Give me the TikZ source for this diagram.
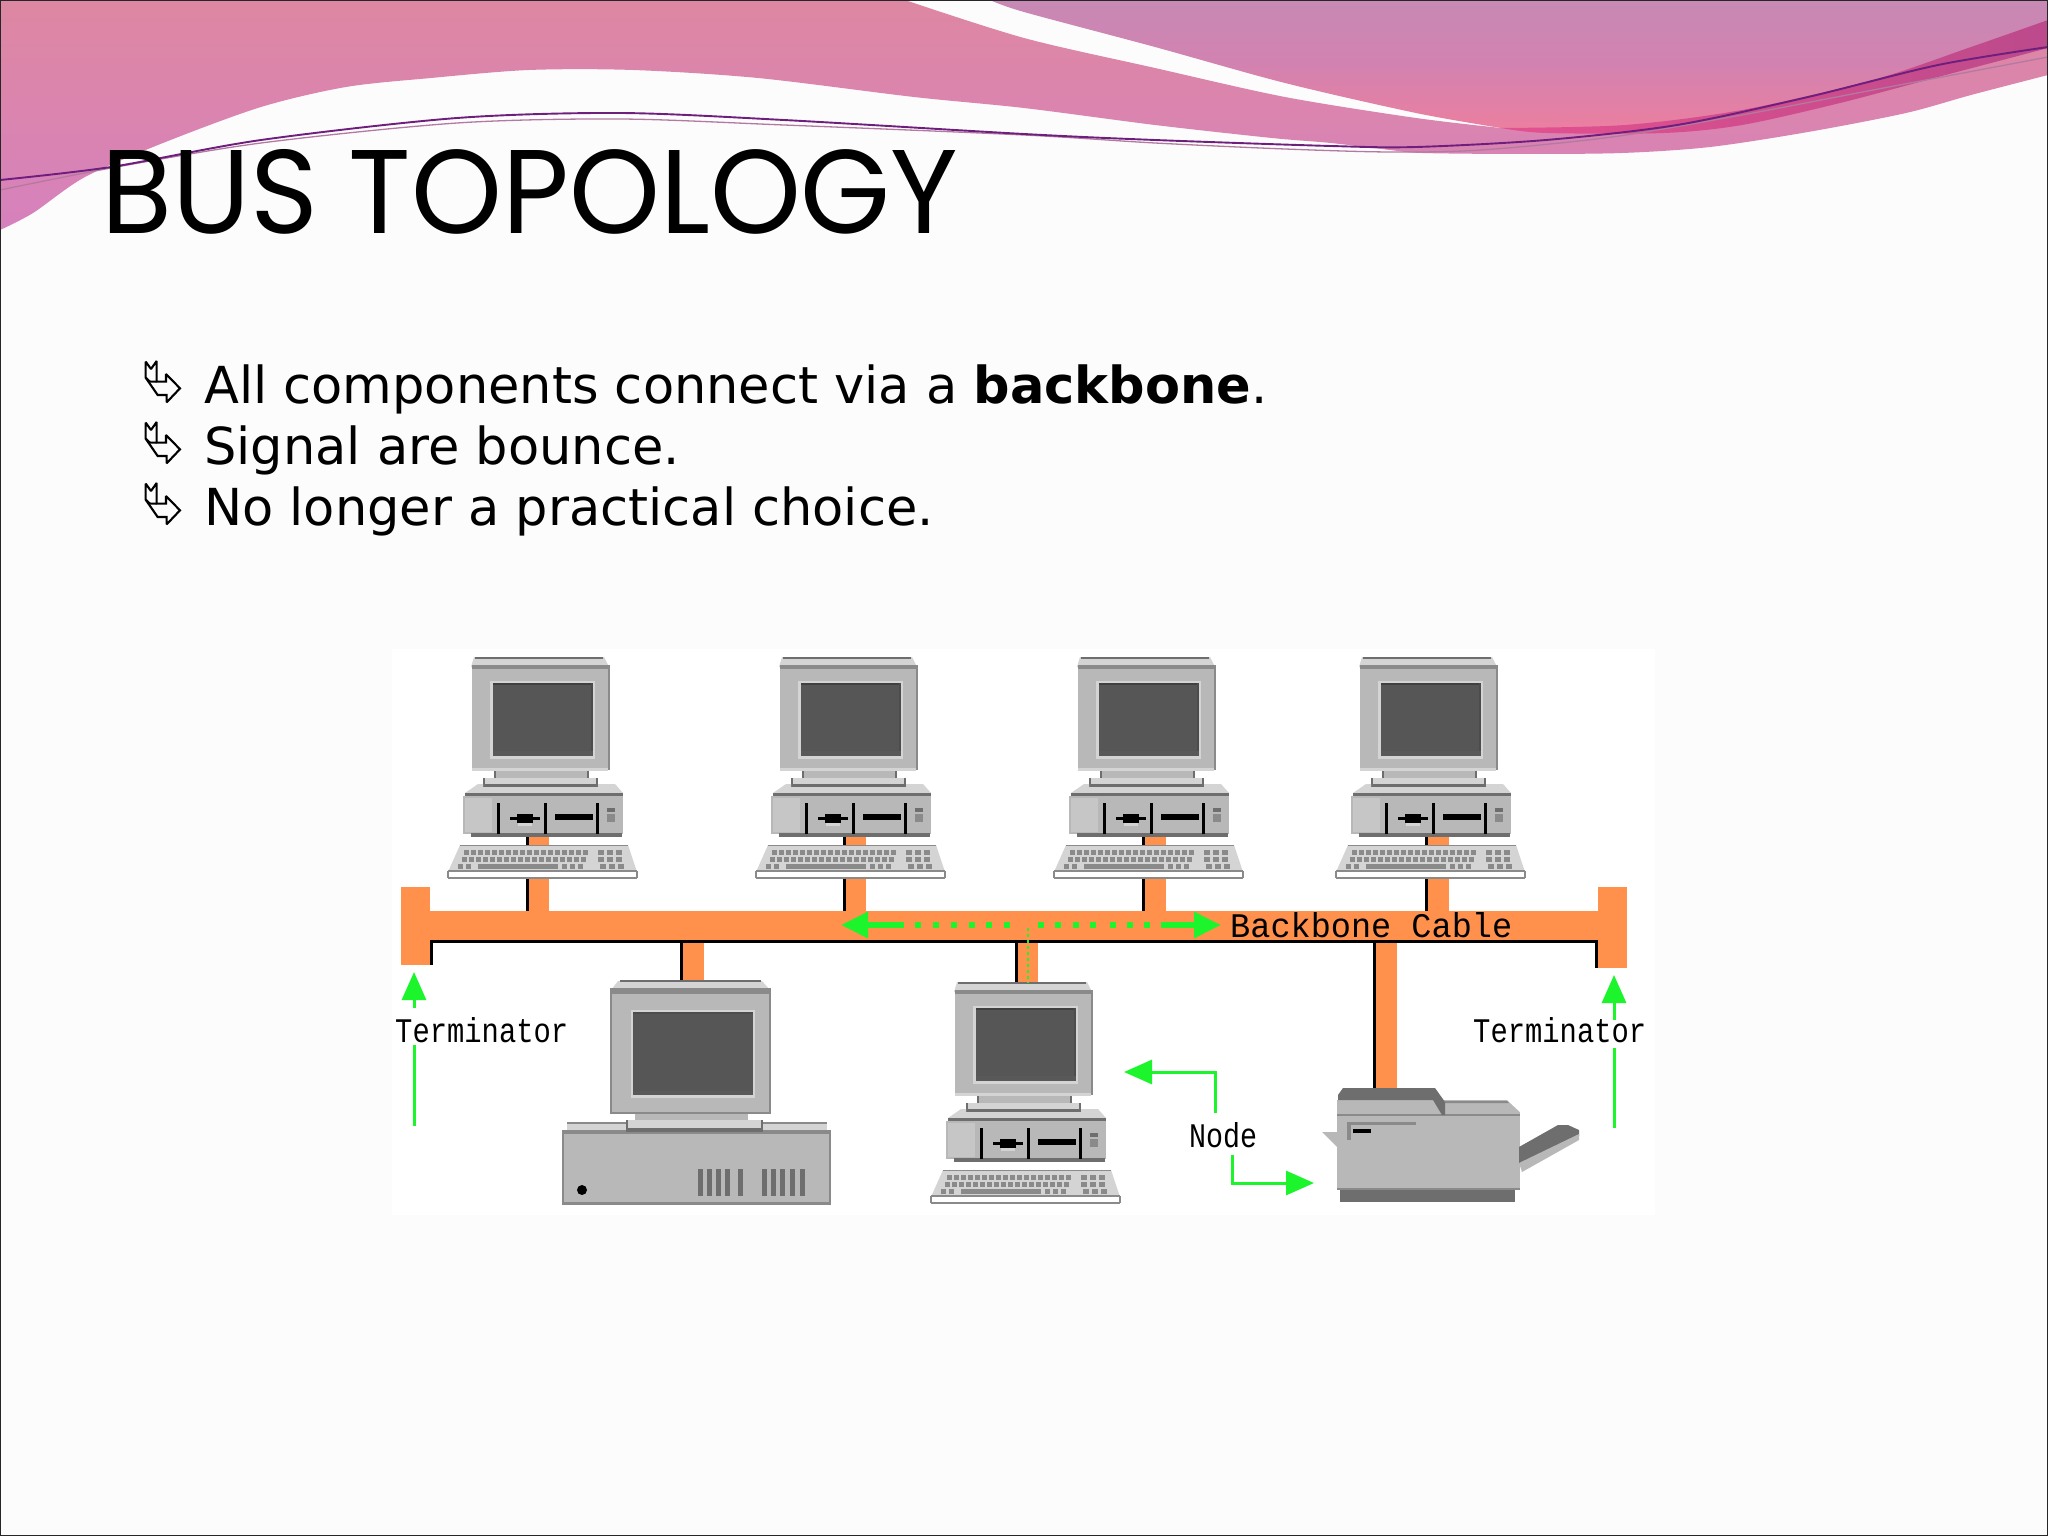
\documentclass[tikz,border=0pt]{standalone}
\usepackage{fontspec}
\usepackage{graphicx}
\setmainfont{DejaVu Sans}
\newfontfamily\titlefont{Poppins}
\newfontfamily\monolabel{Liberation Mono}
\usetikzlibrary{arrows.meta}
\definecolor{pagebg}{HTML}{FDFCFD}
\definecolor{orangebus}{HTML}{FF914D}
\definecolor{arrowgreen}{HTML}{1CF42C}
\definecolor{cgray}{HTML}{B8B8B8}
\definecolor{clight}{HTML}{D4D4D4}
\definecolor{cpanel}{HTML}{C6C6C6}
\definecolor{cmid}{HTML}{8A8A8A}
\definecolor{cdark}{HTML}{6E6E6E}
\definecolor{screen}{HTML}{565656}
\definecolor{DEpink}{HTML}{DE87A2}
\definecolor{DEpinkb}{HTML}{D681BD}
\definecolor{PBa}{HTML}{C789B5}
\definecolor{PBm}{HTML}{D282B0}
\definecolor{PBb}{HTML}{EB7FA0}
\definecolor{CRa}{HTML}{E4508F}
\definecolor{CRb}{HTML}{BC4A8C}
\definecolor{PLa}{HTML}{6E1E7C}
\definecolor{PLb}{HTML}{B27AA0}
\tikzset{
  x=1pt,y=-1pt,
  bodytext/.style={anchor=base west,inner sep=0pt,font=\fontsize{51}{61}\selectfont,text=black},
  bitlabel/.style={anchor=base west,inner sep=0pt,text=black},
  garrow/.style={draw=arrowgreen,line width=3pt,-{Triangle[length=28pt,width=24pt,fill=arrowgreen]}},
  gbus/.style={draw=arrowgreen,line width=6pt,-{Triangle[length=27pt,width=25pt,fill=arrowgreen]}},
  gline/.style={draw=arrowgreen,line width=3pt},
  busdot/.style={fill=arrowgreen},
  bulletshape/.style={draw=black,line width=2.1pt,line join=miter,miter limit=1.5,fill=none},
}
% cable: orange band with a black left edge
\newcommand\cablerun[4]{%
  \fill[orangebus] (#1,#3) rectangle (#2,#4);
  \fill[black] (#1-3,#3) rectangle (#1,#4);}
% bullet
\newcommand\arrowbullet[2]{%
 \begin{scope}[shift={(#1,#2)},x=0.3333pt,y=-0.3333pt]
  \draw[bulletshape] (32,20)--(48,42)--(65,18)--(65,80)--(93,80)--(93,57)--(135,100)--(95,142)--(95,120)--(68,120)--(32,68)--cycle;
  \draw[bulletshape] (32,68)--(45,80)--(65,80);
 \end{scope}}
% small desktop with keyboard
\newcommand\smallpc[1]{%
 \begin{scope}[shift={#1}]
  % monitor cap
  \fill[clight] (34,7)--(164,7)--(169,17)--(31,17)--cycle;
  \draw[cdark,line width=1.6pt] (35,8)--(163,8);
  % monitor
  \fill[cgray] (32,17) rectangle (170,120);
  \fill[cmid] (32,15) rectangle (170,19);
  \fill[cmid] (168,17) rectangle (170,120);
  \fill[clight] (32,118) rectangle (168,121);
  % screen
  \fill[clight] (50,31) rectangle (155,109);
  \fill[screen] (53,33) rectangle (153,106);
  \fill[black!75] (53,33) rectangle (153,35);
  \fill[black!70] (151,33) rectangle (153,106);
  \fill[black!65] (53,101) rectangle (153,106);
  % neck and base
  \fill[cgray] (55,121) rectangle (149,128);
  \fill[cdark] (54,121) rectangle (56,128);
  \fill[cdark] (147,121) rectangle (149,128);
  \fill[clight] (43,128) rectangle (158,137);
  \fill[cdark] (43,134) rectangle (158,137);
  \fill[cdark] (43,128) rectangle (45,137);
  \fill[cdark] (156,128) rectangle (158,137);
  % cpu
  \fill[clight] (38,134)--(43,134)--(43,137)--(158,137)--(158,134)--(175,134)--(183,143)--(25,143)--cycle;
  \fill[cgray] (23,146) rectangle (183,184);
  \fill[cpanel] (25,148) rectangle (52,182);
  \fill[cdark] (25,143) rectangle (183,146);
  \fill[cdark] (31,183) rectangle (182,187);
  \fill[black] (57,153) rectangle (60,184);
  \fill[black] (104,153) rectangle (107,184);
  \fill[black] (156,153) rectangle (159,184);
  \fill[black] (115,164) rectangle (153,170);
  \fill[clight] (78,173) rectangle (92,176);
  \fill[black] (70,167) rectangle (100,170);
  \fill[black] (77,164) rectangle (93,173);
  \fill[cdark] (167,158) rectangle (175,162);
  \fill[cmid] (167,164) rectangle (175,172);
  % keyboard
  \fill[clight] (20,195)--(188,195)--(197,222)--(8,222)--cycle;
  \draw[cmid,line width=1pt] (20,195)--(188,195);
  \foreach \kx in {24,31,...,143} {\fill[cmid] (\kx,200) rectangle (\kx+5,205);}
  \foreach \kx in {22,29,...,143} {\fill[cmid] (\kx,207) rectangle (\kx+5,212);}
  \fill[cmid] (38,214) rectangle (118,219);
  \foreach \kx in {18,26,122,130,138} {\fill[cmid] (\kx,214) rectangle (\kx+5,219);}
  \foreach \kx in {158,167,176} {\fill[cmid] (\kx,200) rectangle (\kx+6,205);
     \fill[cmid] (\kx,207) rectangle (\kx+6,212);\fill[cmid] (\kx+2,214) rectangle (\kx+8,219);}
  \fill[white] (8,222) rectangle (197,228);
  \draw[cmid,line width=1.2pt] (8,221)--(197,221) (8,228)--(197,228);
  \draw[cmid,line width=1.2pt] (8,221)--(8,228) (197,221)--(197,228);
 \end{scope}}
\begin{document}
\begin{tikzpicture}
\useasboundingbox (0,0) rectangle (2048,1536);
\fill[pagebg] (0,0) rectangle (2048,1536);
% swoosh band A
\shade[top color=DEpink,bottom color=DEpinkb] (0,230)--(0,0)--(905,0)
  --plot[smooth,tension=0.5] coordinates {(905,0)(1024,38)(1155,68)(1285,97)(1416,118)(1501,128)}
  --(1742,110)--(2048,20)--
  plot[smooth,tension=0.5] coordinates {(2048,75)(1971,95)(1906,113)(1808,132)(1710,147)(1622,153)(1520,154)(1422,153)(1390,150)(1331,143)(1272,138)(1155,125)(1024,108)(914,97)(758,78)(633,70)(529,70)(431,78)(346,87)(261,107)(163,143)(85,177)(33,213)(0,230)}
  --cycle;
% swoosh B
\shade[top color=PBa,bottom color=PBb,middle color=PBm] (990,0)
  --plot[smooth,tension=0.5] coordinates {(990,0)(1024,12)(1155,47)(1285,83)(1416,113)(1501,128)}
  --plot[smooth,tension=0.5] coordinates {(1501,128)(1625,125)(1742,110)(1873,80)(1971,47)(2048,20)}
  --(2048,0)--cycle;
% crescent
\shade[left color=CRa,right color=CRb] (1501,128)
  --plot[smooth,tension=0.5] coordinates {(1501,128)(1625,125)(1742,110)(1873,80)(1971,47)(2048,20)}
  --plot[smooth,tension=0.5] coordinates {(2048,48)(1938,77)(1840,103)(1742,125)(1664,133)(1546,133)(1501,128)}
  --cycle;
% fine lines
\draw[draw=PLb,line width=1.3pt] plot[smooth,tension=0.5] coordinates {(0,190)(111,168)(261,143)(457,123)(620,119)(784,125)(1024,135)(1155,143)(1285,149)(1390,152)(1481,150)(1612,137)(1742,115)(1873,90)(2048,57)};
\draw[draw=PLa,line width=1.9pt] plot[smooth,tension=0.5] coordinates {(0,180)(111,167)(261,140)(457,118)(620,113)(784,120)(1024,134)(1155,140)(1331,146)(1416,147)(1546,140)(1677,125)(1808,97)(1938,65)(2048,47)};
% white picture panel
\fill[white] (392,649) rectangle (1655,1215);
% title
\node[anchor=base west,inner sep=0pt] (title) at (101,233) {\resizebox{857pt}{84pt}{\titlefont BUS TOPOLOGY}};
% bullets and text
\arrowbullet{135}{355}
\arrowbullet{135}{416}
\arrowbullet{135}{477}
\node[bodytext] (line1) at (204,403) {All components connect via a \textbf{backbone}.};
\node[bodytext] (line2) at (204,464) {Signal are bounce.};
\node[bodytext] (line3) at (204,525) {No longer a practical choice.};
% backbone
\fill[orangebus] (401,887) rectangle (430,965);
\fill[orangebus] (430,911) rectangle (1598,940);
\fill[orangebus] (1598,887) rectangle (1627,968);
\fill[black] (433,940) rectangle (1596,943);
\fill[black] (430,940) rectangle (433,965);
\fill[black] (1595,940) rectangle (1598,968);
% computers
\cablerun{529}{549}{878}{911}
\cablerun{846}{866}{878}{911}
\cablerun{1145}{1166}{878}{911}
\cablerun{1428}{1449}{878}{911}
\cablerun{683}{704}{943}{982}
\cablerun{1018}{1038}{943}{985}
\cablerun{1376}{1397}{943}{1090}
\cablerun{529}{549}{836}{846}
\cablerun{846}{866}{836}{846}
\cablerun{1145}{1166}{836}{846}
\cablerun{1428}{1449}{836}{846}
\smallpc{(440,650)}
\smallpc{(748,650)}
\smallpc{(1046,650)}
\smallpc{(1328,650)}
\smallpc{(923,975)}
% big desktop
\begin{scope}
  \fill[clight] (618,981)--(762,981)--(770,990)--(611,990)--cycle;
  \draw[cdark,line width=1.4pt] (620,981)--(761,981);
  \fill[cgray] (610,990) rectangle (771,1113);
  \fill[cmid] (610,988) rectangle (771,994);
  \fill[cmid] (610,990) rectangle (612,1113);
  \fill[cmid] (769,990) rectangle (771,1113);
  \fill[cmid] (610,1112) rectangle (771,1114);
  \fill[clight] (631,1010) rectangle (755,1098);
  \fill[screen] (633,1012) rectangle (753,1095);
  \fill[black!70] (633,1012) rectangle (753,1014);
  \fill[black!65] (633,1091) rectangle (753,1095);
  \fill[cgray] (635,1114) rectangle (748,1120);
  \fill[clight] (567,1123) rectangle (827,1131);
  \draw[cmid,line width=1.4pt] (567,1123)--(827,1123);
  \fill[cgray] (562,1131) rectangle (831,1205);
  \fill[cmid] (562,1130) rectangle (831,1134);
  \fill[cmid] (562,1130) rectangle (564,1205);
  \fill[cmid] (829,1130) rectangle (831,1205);
  \fill[cmid] (562,1202) rectangle (831,1205);
  \fill[clight] (626,1120) rectangle (763,1132);
  \fill[cdark] (626,1128) rectangle (763,1132);
  \fill[cdark] (626,1120) rectangle (628,1132);
  \fill[cdark] (761,1120) rectangle (763,1132);
  \fill[black] (582,1190) circle (5);
  \foreach \vx in {698,707,716,725,738,762,771,780,790,800} {\fill[cdark] (\vx,1169) rectangle (\vx+5,1196);}
\end{scope}
% printer
\begin{scope}
  \fill[cgray] (1322,1132)--(1337,1132)--(1337,1147)--cycle;
  \fill[cgray] (1337,1100) rectangle (1520,1190);
  \fill[white] (1507,1100)--(1521,1100)--(1521,1113)--cycle;
  \fill[cmid] (1445,1101)--(1507,1101)--(1509,1103)--(1445,1103)--cycle;
  \fill[cmid] (1337,1114) rectangle (1520,1116);
  \fill[cdark] (1343,1088)--(1435,1088)--(1445,1102)--(1445,1115)--(1442,1115)--(1433,1100)--(1338,1100)--(1338,1095)--cycle;
  \fill[cmid] (1347,1122) rectangle (1416,1125);
  \fill[cmid] (1347,1122) rectangle (1351,1140);
  \fill[black] (1353,1129) rectangle (1371,1133);
  \fill[cdark] (1340,1190) rectangle (1515,1202);
  \fill[cmid] (1337,1188) rectangle (1520,1190);
  \fill[cdark] (1519,1147)--(1558,1125)--(1568,1125)--(1579,1130)--(1579,1136)--(1522,1166)--(1519,1163)--cycle;
  \fill[cgray] (1519,1163)--(1579,1134)--(1579,1140)--(1522,1172)--cycle;
\end{scope}
% green signal arrows on backbone
\coordinate (busL0) at (904,925);
\coordinate (busL1) at (841,925);
\coordinate (busR0) at (1161,925);
\coordinate (busR1) at (1221,925);
\draw[gbus] (busL0) -- (busL1);
\draw[gbus] (busR0) -- (busR1);
\foreach \dx in {918,936,954,972,989,1007,1041,1058,1076,1093,1113,1130,1147} {\fill[busdot] (\dx-3,922) rectangle (\dx+3,928);}
\coordinate (tapA) at (1028,928);
\coordinate (tapB) at (1028,983);
\draw[arrowgreen,line width=1.6pt,dash pattern=on 3pt off 3pt] (tapA) -- (tapB);
% labels
\node[bitlabel] (termL) at (395,1042) {\resizebox{173pt}{25pt}{\monolabel Terminator}};
\node[bitlabel] (termR) at (1473,1042) {\resizebox{173pt}{25pt}{\monolabel Terminator}};
\node[bitlabel] (nodelabel) at (1189,1147) {\resizebox{68pt}{25pt}{\monolabel Node}};
\node[bitlabel] (backlabel) at (1230,937) {\resizebox{282pt}{25pt}{\monolabel Backbone Cable}};
% terminator arrows
\coordinate (tl1) at (414,1126);
\coordinate (tl2) at (414,1045);
\coordinate (tl3) at (414,1008);
\coordinate (tl4) at (414,972);
\draw[gline] (tl1) -- (tl2);
\draw[garrow] (tl3) -- (tl4);
\coordinate (tr1) at (1614,1128);
\coordinate (tr2) at (1614,1048);
\coordinate (tr3) at (1614,1020);
\coordinate (tr4) at (1614,975);
\draw[gline] (tr1) -- (tr2);
\draw[garrow] (tr3) -- (tr4);
% node arrows
\coordinate (nu0) at (1215,1113);
\coordinate (nu1) at (1215,1072);
\coordinate (nu2) at (1124,1072);
\draw[garrow] (nu0) -- (nu1) -- (nu2);
\coordinate (nd0) at (1232,1155);
\coordinate (nd1) at (1232,1183);
\coordinate (nd2) at (1314,1183);
\draw[garrow] (nd0) -- (nd1) -- (nd2);
% slide border
\draw[black!85,line width=1.4pt] (0,0) rectangle (2048,1536);
\end{tikzpicture}
\end{document}
